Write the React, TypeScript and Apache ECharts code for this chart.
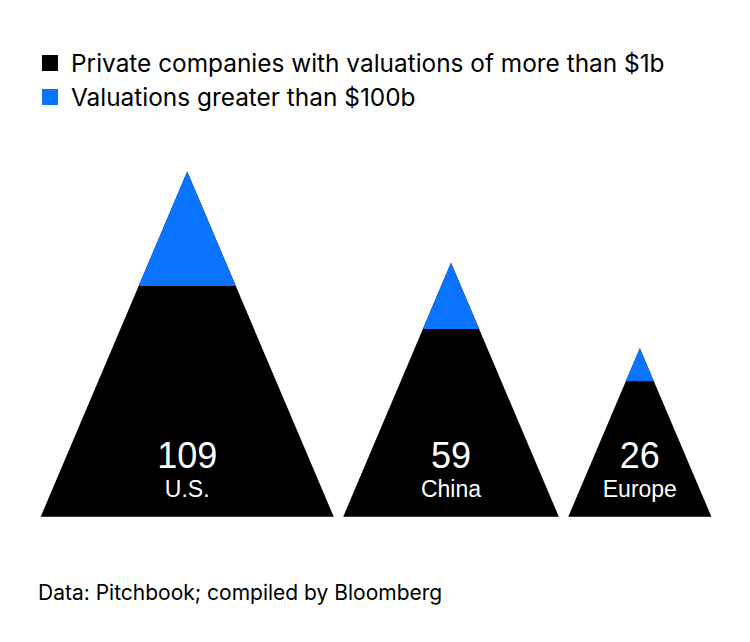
import React, { useEffect, useRef } from "react";
import * as echarts from "echarts";

const categories = ["U.S.", "China", "Europe"];
const totalCompanies = [109, 59, 26];
const over100b = [12, 4, 1];
const seriesNames = [
  "Private companies with valuations of more than $1b",
  "Valuations greater than $100b",
];
const sourceNote = "Data: Pitchbook; compiled by Bloomberg";

// Triangle areas are proportional to counts (height ∝ sqrt(count))
const ASPECT = 0.849; // base width / height
const GAP = 0.287; // gap between triangles, in axis units
let cursor = 0;
const layout = totalCompanies.map((v) => {
  const h = Math.sqrt(v);
  const w = ASPECT * h;
  const x0 = cursor;
  cursor += w + GAP;
  return [x0 + w / 2, h, w / 2];
});
const xMax = cursor - GAP;

const FONT = "Liberation Sans, Arial, sans-serif";
const FONT2 = "Inter, Liberation Sans, Arial, sans-serif";

export default function App() {
  const ref = useRef<HTMLDivElement>(null);
  useEffect(() => {
    document.body.style.margin = "0";
    const chart = echarts.init(ref.current!, null, { renderer: "svg" });
    const blackData = layout.map((l, i) => [l[0], l[1], l[2], totalCompanies[i], i]);
    const blueData = layout.map((l, i) => [l[0], l[1], l[2], totalCompanies[i], over100b[i]]);
    chart.setOption({
      animation: false,
      backgroundColor: "#ffffff",
      legend: {
        orient: "vertical",
        left: 42,
        top: 51,
        padding: 0,
        itemWidth: 16,
        itemHeight: 16,
        itemGap: 10,
        icon: "rect",
        selectedMode: false,
        textStyle: { fontFamily: FONT2, fontSize: 24.4, color: "#000", padding: [0, 0, 0, 8] },
        data: seriesNames,
      },
      grid: { left: 40.7, width: 670.7, top: 120, height: 396.7 },
      xAxis: { type: "value", min: 0, max: xMax, show: false },
      yAxis: { type: "value", min: 0, max: 12, show: false },
      graphic: [
        {
          type: "text",
          left: 38,
          top: 582,
          style: { text: sourceNote, fontFamily: FONT2, fontSize: 21, fill: "#000" },
        },
      ],
      series: [
        {
          name: seriesNames[0],
          type: "custom",
          itemStyle: { color: "#000000" },
          data: blackData,
          renderItem: (params: any, api: any) => {
            const cx = api.value(0);
            const h = api.value(1);
            const hw = api.value(2);
            const idx = api.value(4);
            const apex = api.coord([cx, h]);
            const bl = api.coord([cx - hw, 0]);
            const br = api.coord([cx + hw, 0]);
            return {
              type: "group",
              children: [
                {
                  type: "polygon",
                  shape: { points: [apex, bl, br] },
                  style: { fill: "#000000" },
                },
                {
                  type: "text",
                  z2: 10,
                  style: {
                    text: String(api.value(3)),
                    x: apex[0],
                    y: bl[1] - 61,
                    align: "center",
                    verticalAlign: "middle",
                    fontFamily: FONT,
                    fontSize: 36,
                    fill: "#ffffff",
                  },
                },
                {
                  type: "text",
                  z2: 10,
                  style: {
                    text: categories[idx],
                    x: apex[0],
                    y: bl[1] - 28,
                    align: "center",
                    verticalAlign: "middle",
                    fontFamily: FONT,
                    fontSize: 23,
                    fill: "#ffffff",
                  },
                },
              ],
            };
          },
        },
        {
          name: seriesNames[1],
          type: "custom",
          itemStyle: { color: "#0a73ff" },
          data: blueData,
          renderItem: (params: any, api: any) => {
            const cx = api.value(0);
            const h = api.value(1);
            const hw = api.value(2);
            const f = Math.sqrt(api.value(4) / api.value(3));
            const apex = api.coord([cx, h]);
            const bl = api.coord([cx - hw * f, h * (1 - f)]);
            const br = api.coord([cx + hw * f, h * (1 - f)]);
            return {
              type: "polygon",
              shape: { points: [apex, bl, br] },
              style: { fill: "#0a73ff" },
            };
          },
        },
      ],
    });
    return () => chart.dispose();
  }, []);
  return <div ref={ref} style={{ width: 750, height: 642 }} />;
}
